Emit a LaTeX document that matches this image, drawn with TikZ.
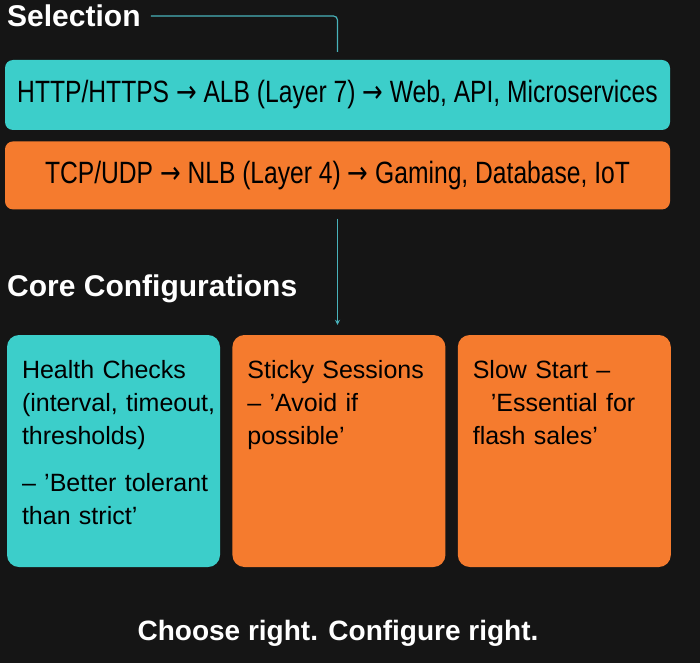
\documentclass[tikz,border=0pt]{standalone}
\usepackage{fontspec}
\setmainfont{Liberation Sans}
\newfontfamily\narrowfont[FakeStretch=0.8]{Liberation Sans}
\newfontfamily\arrowfont[FakeStretch=0.8]{DejaVu Sans}
\newcommand{\toarrow}{{\arrowfont →}}
\usetikzlibrary{positioning,arrows.meta}

\definecolor{bgdark}{RGB}{21,21,21}
\definecolor{tealbox}{RGB}{60,206,202}
\definecolor{orangebox}{RGB}{245,123,46}
\definecolor{tealline}{RGB}{72,178,186}

\begin{document}
\begin{tikzpicture}[
    x=1pt, y=-1pt,
    heading/.style={text=white, font=\bfseries\fontsize{30}{36}\selectfont, inner sep=0pt},
    route/.style={rounded corners=8pt, minimum width=665pt, align=center,
                  font=\narrowfont\fontsize{30.8}{34}\selectfont, text=black},
    card/.style={rounded corners=12pt, minimum width=213pt, minimum height=232pt},
    cardtext/.style={anchor=north west, inner sep=0pt, align=left, text width=200pt,
                     font=\fontsize{25}{33}\selectfont, text=black},
    link/.style={tealline, line width=1.2pt, rounded corners=4pt},
    flecha/.style={-{Stealth[length=5pt, width=5pt]}}
]

\fill[bgdark] (0,0) rectangle (700,663);

% section titles
\node[heading, anchor=west] (sel)  at (7,16)  {Selection};
\node[heading, anchor=west] (core) at (7,289) {Core Configurations};

% protocol rows
\node[route, fill=tealbox, minimum height=70pt] (alb) at (337.5,95)
    {HTTP/HTTPS \toarrow{} ALB (Layer 7) \toarrow{} Web, API, Microservices};
\node[route, fill=orangebox, minimum height=68pt, below=11pt of alb] (nlb)
    {TCP/UDP \toarrow{} NLB (Layer 4) \toarrow{} Gaming, Database, IoT};

% configuration cards
\node[card, fill=tealbox]                          (health) at (113.5,451) {};
\node[card, fill=orangebox, right=12pt of health]  (sticky) {};
\node[card, fill=orangebox, right=12pt of sticky]  (slow)   {};

\node[cardtext] (healthtxt) at ([shift={(15,25)}]health.north west)
    {Health Checks\\(interval, timeout,\\thresholds)\\[14pt]– ’Better tolerant\\than strict’};
\node[cardtext] (stickytxt) at ([shift={(15,25)}]sticky.north west)
    {Sticky Sessions\\– ’Avoid if\\possible’};
\node[cardtext] (slowtxt)   at ([shift={(15,25)}]slow.north west)
    {Slow Start –\\\hspace*{18pt}’Essential for\\flash sales’};

\node[heading, font=\bfseries\fontsize{28}{34}\selectfont] (motto) at (338,633)
    {Choose right. Configure right.};

% connectors
\draw[link, shorten <=10pt, shorten >=8pt] (sel.east) -| (alb.north);
\draw[link, flecha, shorten <=9pt, shorten >=10pt] (nlb.south) -- (nlb.south |- sticky.north);

\end{tikzpicture}
\end{document}
